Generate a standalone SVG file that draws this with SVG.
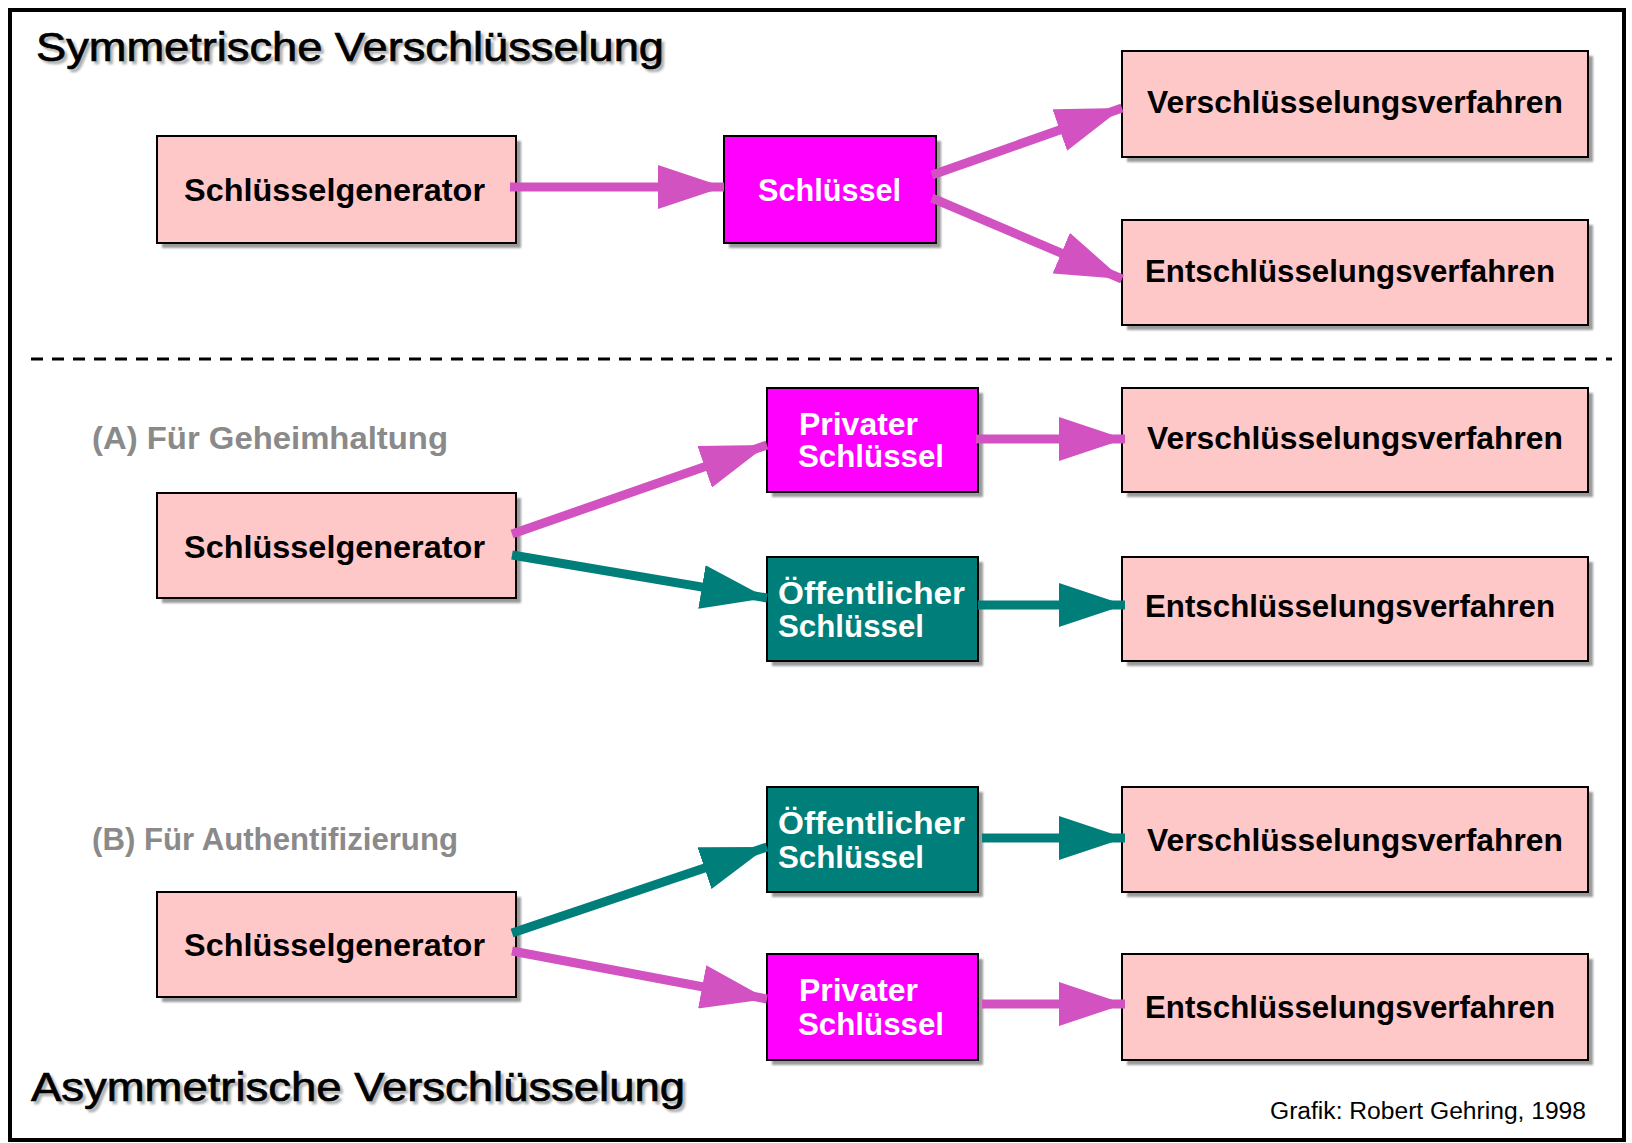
<svg xmlns="http://www.w3.org/2000/svg" width="1632" height="1143" viewBox="0 0 1632 1143">
  <defs>
    <style>
      .box { stroke: #000; stroke-width: 2; }
      .proc { fill: #FFC8C8; }
      .priv { fill: #FF00FF; }
      .pub { fill: #007F7A; }
      .shadow { fill: #9a9a9a; filter: url(#soft); }
      .lbl { font-family: "Liberation Sans", Arial, sans-serif; font-weight: bold; font-size: 32px; fill: #000; }
      .wlbl { font-family: "Liberation Sans", Arial, sans-serif; font-weight: bold; font-size: 31px; fill: #fff; }
      .head { font-family: "Liberation Sans", Arial, sans-serif; font-size: 40px; fill: #000; stroke: #000; stroke-width: 0.7; }
      .headsh { font-family: "Liberation Sans", Arial, sans-serif; font-size: 40px; fill: #b0b0b0; stroke: #b0b0b0; stroke-width: 0.7; filter: url(#soft); }
      .sub { font-family: "Liberation Sans", Arial, sans-serif; font-weight: bold; font-size: 31px; fill: #8a8a8a; }
      .credit { font-family: "Liberation Sans", Arial, sans-serif; font-size: 23px; fill: #000; }
      .mag { stroke: #D252C2; stroke-width: 9; fill: none; }
      .teal { stroke: #007F7A; stroke-width: 9; fill: none; }
    </style>
    <filter id="soft" x="-10%" y="-10%" width="120%" height="120%">
      <feGaussianBlur stdDeviation="1.2"/>
    </filter>
    <marker id="hm" markerUnits="userSpaceOnUse" markerWidth="66" markerHeight="44" refX="66" refY="22" orient="auto">
      <path d="M0,0 L66,22 L0,44 Z" fill="#D252C2"/>
    </marker>
    <marker id="ht" markerUnits="userSpaceOnUse" markerWidth="66" markerHeight="44" refX="66" refY="22" orient="auto">
      <path d="M0,0 L66,22 L0,44 Z" fill="#007F7A"/>
    </marker>
  </defs>

  <rect x="0" y="0" width="1632" height="1143" fill="#fff"/>
  <!-- outer frame -->
  <rect x="10" y="10" width="1614" height="1130" fill="none" stroke="#000" stroke-width="4"/>

  <!-- section headings -->
  <text class="headsh" x="39" y="64" textLength="628" lengthAdjust="spacingAndGlyphs">Symmetrische Verschlüsselung</text>
  <text class="head" x="36" y="61" textLength="628" lengthAdjust="spacingAndGlyphs">Symmetrische Verschlüsselung</text>
  <text class="headsh" x="34" y="1104" textLength="654" lengthAdjust="spacingAndGlyphs">Asymmetrische Verschlüsselung</text>
  <text class="head" x="31" y="1101" textLength="654" lengthAdjust="spacingAndGlyphs">Asymmetrische Verschlüsselung</text>

  <!-- divider -->
  <line x1="31" y1="359" x2="1612" y2="359" stroke="#000" stroke-width="3" stroke-dasharray="12 9"/>

  <text class="sub" x="92" y="449" textLength="356" lengthAdjust="spacingAndGlyphs">(A) Für Geheimhaltung</text>
  <text class="sub" x="92" y="850" textLength="366" lengthAdjust="spacingAndGlyphs">(B) Für Authentifizierung</text>

  <text class="credit" x="1586" y="1119" text-anchor="end" textLength="316" lengthAdjust="spacingAndGlyphs">Grafik: Robert Gehring, 1998</text>

  <!-- symmetric part -->
  <g id="sym-generator">
    <rect class="shadow" x="162" y="141" width="359" height="107"/>
    <rect class="box proc" x="157" y="136" width="359" height="107"/>
    <text class="lbl" x="184" y="201" textLength="301" lengthAdjust="spacingAndGlyphs">Schlüsselgenerator</text>
  </g>
  <g id="sym-key">
    <rect class="shadow" x="729" y="141" width="212" height="107"/>
    <rect class="box priv" x="724" y="136" width="212" height="107"/>
    <text class="wlbl" x="758" y="201" textLength="143" lengthAdjust="spacingAndGlyphs">Schlüssel</text>
  </g>
  <g id="sym-encrypt">
    <rect class="shadow" x="1127" y="56" width="466" height="106"/>
    <rect class="box proc" x="1122" y="51" width="466" height="106"/>
    <text class="lbl" x="1147" y="113" textLength="416" lengthAdjust="spacingAndGlyphs">Verschlüsselungsverfahren</text>
  </g>
  <g id="sym-decrypt">
    <rect class="shadow" x="1127" y="225" width="466" height="105"/>
    <rect class="box proc" x="1122" y="220" width="466" height="105"/>
    <text class="lbl" x="1145" y="282" textLength="410" lengthAdjust="spacingAndGlyphs">Entschlüsselungsverfahren</text>
  </g>

  <!-- asymmetric (A) -->
  <g id="a-generator">
    <rect class="shadow" x="162" y="498" width="359" height="105"/>
    <rect class="box proc" x="157" y="493" width="359" height="105"/>
    <text class="lbl" x="184" y="558" textLength="301" lengthAdjust="spacingAndGlyphs">Schlüsselgenerator</text>
  </g>
  <g id="a-private">
    <rect class="shadow" x="772" y="393" width="211" height="104"/>
    <rect class="box priv" x="767" y="388" width="211" height="104"/>
    <text class="wlbl" x="799" y="435" textLength="119" lengthAdjust="spacingAndGlyphs">Privater</text>
    <text class="wlbl" x="798" y="467" textLength="146" lengthAdjust="spacingAndGlyphs">Schlüssel</text>
  </g>
  <g id="a-public">
    <rect class="shadow" x="772" y="562" width="211" height="104"/>
    <rect class="box pub" x="767" y="557" width="211" height="104"/>
    <text class="wlbl" x="778" y="604" textLength="187" lengthAdjust="spacingAndGlyphs">Öffentlicher</text>
    <text class="wlbl" x="778" y="637" textLength="146" lengthAdjust="spacingAndGlyphs">Schlüssel</text>
  </g>
  <g id="a-encrypt">
    <rect class="shadow" x="1127" y="393" width="466" height="104"/>
    <rect class="box proc" x="1122" y="388" width="466" height="104"/>
    <text class="lbl" x="1147" y="449" textLength="416" lengthAdjust="spacingAndGlyphs">Verschlüsselungsverfahren</text>
  </g>
  <g id="a-decrypt">
    <rect class="shadow" x="1127" y="562" width="466" height="104"/>
    <rect class="box proc" x="1122" y="557" width="466" height="104"/>
    <text class="lbl" x="1145" y="617" textLength="410" lengthAdjust="spacingAndGlyphs">Entschlüsselungsverfahren</text>
  </g>

  <!-- asymmetric (B) -->
  <g id="b-generator">
    <rect class="shadow" x="162" y="897" width="359" height="105"/>
    <rect class="box proc" x="157" y="892" width="359" height="105"/>
    <text class="lbl" x="184" y="956" textLength="301" lengthAdjust="spacingAndGlyphs">Schlüsselgenerator</text>
  </g>
  <g id="b-public">
    <rect class="shadow" x="772" y="792" width="211" height="105"/>
    <rect class="box pub" x="767" y="787" width="211" height="105"/>
    <text class="wlbl" x="778" y="834" textLength="187" lengthAdjust="spacingAndGlyphs">Öffentlicher</text>
    <text class="wlbl" x="778" y="868" textLength="146" lengthAdjust="spacingAndGlyphs">Schlüssel</text>
  </g>
  <g id="b-private">
    <rect class="shadow" x="772" y="959" width="211" height="106"/>
    <rect class="box priv" x="767" y="954" width="211" height="106"/>
    <text class="wlbl" x="799" y="1001" textLength="119" lengthAdjust="spacingAndGlyphs">Privater</text>
    <text class="wlbl" x="798" y="1035" textLength="146" lengthAdjust="spacingAndGlyphs">Schlüssel</text>
  </g>
  <g id="b-encrypt">
    <rect class="shadow" x="1127" y="792" width="466" height="105"/>
    <rect class="box proc" x="1122" y="787" width="466" height="105"/>
    <text class="lbl" x="1147" y="851" textLength="416" lengthAdjust="spacingAndGlyphs">Verschlüsselungsverfahren</text>
  </g>
  <g id="b-decrypt">
    <rect class="shadow" x="1127" y="959" width="466" height="106"/>
    <rect class="box proc" x="1122" y="954" width="466" height="106"/>
    <text class="lbl" x="1145" y="1018" textLength="410" lengthAdjust="spacingAndGlyphs">Entschlüsselungsverfahren</text>
  </g>

  <!-- connectors -->
  <g id="connectors">
    <line class="mag" x1="510" y1="187" x2="724" y2="187" marker-end="url(#hm)"/>
    <line class="mag" x1="932" y1="175" x2="1122" y2="108" marker-end="url(#hm)"/>
    <line class="mag" x1="932" y1="198" x2="1122" y2="279" marker-end="url(#hm)"/>

    <line class="mag" x1="512" y1="534" x2="767" y2="445" marker-end="url(#hm)"/>
    <line class="teal" x1="512" y1="555" x2="767" y2="598" marker-end="url(#ht)"/>
    <line class="mag" x1="976" y1="439" x2="1125" y2="439" marker-end="url(#hm)"/>
    <line class="teal" x1="978" y1="605" x2="1125" y2="605" marker-end="url(#ht)"/>

    <line class="teal" x1="512" y1="933" x2="767" y2="847" marker-end="url(#ht)"/>
    <line class="mag" x1="512" y1="951" x2="767" y2="999" marker-end="url(#hm)"/>
    <line class="teal" x1="982" y1="838" x2="1125" y2="838" marker-end="url(#ht)"/>
    <line class="mag" x1="982" y1="1004" x2="1125" y2="1004" marker-end="url(#hm)"/>
  </g>
</svg>
